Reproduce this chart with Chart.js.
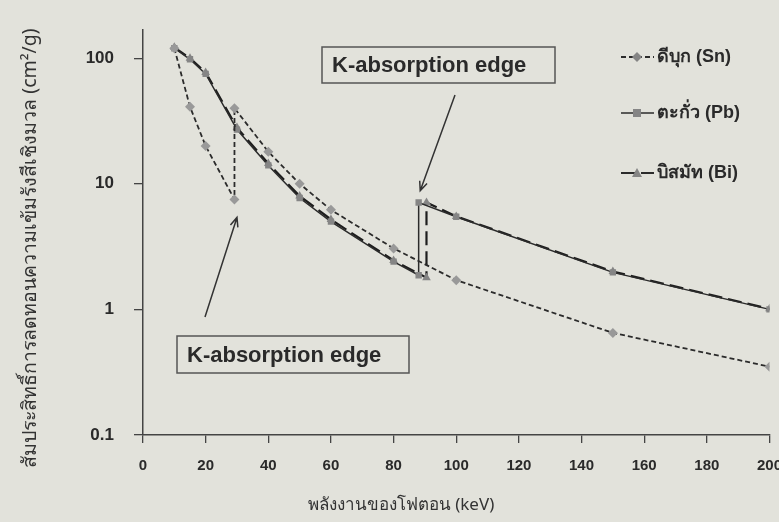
<!DOCTYPE html>
<html>
<head>
<meta charset="utf-8">
<script src="https://cdn.jsdelivr.net/npm/chart.js@4.4.1/dist/chart.umd.min.js"></script>
<style>
  html, body { margin: 0; padding: 0; overflow: hidden; background: #e2e2db; }
  #wrap { position: relative; width: 796px; height: 522px; }
</style>
</head>
<body>
<div id="wrap"><canvas id="attChart" width="796" height="522"></canvas></div>
<script>
// พลังงาน (keV) และค่าสัมประสิทธิ์การลดทอน (cm2/g) อ่านจากกราฟ
const snEnergy = [10, 15, 20, 29.2, 29.2, 40, 50, 60, 80, 100, 150, 200];
const snValues = [120, 41, 20, 7.5, 40, 18, 10, 6.2, 3.06, 1.71, 0.65, 0.35];

const pbEnergy = [10, 15, 20, 30, 40, 50, 60, 80, 88, 88, 100, 150, 200];
const pbValues = [120, 98, 75, 27, 14, 7.7, 5.0, 2.4, 1.87, 7.1, 5.47, 1.97, 1.0];

const biEnergy = [10, 15, 20, 30, 40, 50, 60, 80, 90.5, 90.5, 100, 150, 200];
const biValues = [122, 100, 77, 28, 14.5, 8.0, 5.2, 2.45, 1.79, 7.1, 5.5, 2.0, 1.01];

const xTicks = [0, 20, 40, 60, 80, 100, 120, 140, 160, 180, 200];
const yTicks = [0.1, 1, 10, 100];

const legendItems = ['ดีบุก (Sn)', 'ตะกั่ว (Pb)', 'บิสมัท (Bi)'];
const xTitle = 'พลังงานของโฟตอน (keV)';
const yTitle = 'สัมประสิทธิ์การลดทอนความเข้มรังสีเชิงมวล (cm²/g)';
const edgeLabel = 'K-absorption edge';

function toPoints(xs, ys) {
    return xs.map((x, i) => ({ x: x, y: ys[i] }));
}

const LINE = '#2b2b2b';
const MARK = '#858585';
const BOLD = 'bold 18px "Liberation Sans", Arial, sans-serif';

// วาดคำอธิบาย กรอบข้อความ และลูกศร
const extras = {
    id: 'extras',
    afterDraw(chart) {
        const ctx = chart.ctx;
        const xs = chart.scales.x, ys = chart.scales.y;
        ctx.save();

        // ชื่อแกน
        ctx.fillStyle = '#333';
        ctx.font = '17px "Noto Sans", "DejaVu Sans", sans-serif';
        ctx.textAlign = 'center';
        ctx.textBaseline = 'middle';
        ctx.fillText(xTitle, 401, 505);
        ctx.save();
        ctx.translate(30, 248);
        ctx.rotate(-Math.PI / 2);
        ctx.font = '19.5px "Noto Sans", "DejaVu Sans", sans-serif';
        ctx.fillText(yTitle, 0, 0);
        ctx.restore();

        // legend
        const rows = [
            { y: 57, dash: [5, 3], width: 1.8, shape: 'diamond' },
            { y: 113, dash: [], width: 1.5, shape: 'square' },
            { y: 173, dash: [14, 6], width: 2.2, shape: 'triangle' }
        ];
        rows.forEach((r, i) => {
            ctx.strokeStyle = LINE;
            ctx.lineWidth = r.width;
            ctx.setLineDash(r.dash);
            ctx.beginPath();
            ctx.moveTo(621, r.y);
            ctx.lineTo(654, r.y);
            ctx.stroke();
            ctx.setLineDash([]);
            drawMarker(ctx, r.shape, 637, r.y);
            ctx.fillStyle = '#2a2a2a';
            ctx.font = BOLD;
            ctx.textAlign = 'left';
            ctx.fillText(legendItems[i], 657, r.y);
        });

        // กรอบ K-absorption edge
        const boxes = [[322, 47, 233, 36], [177, 336, 232, 37]];
        boxes.forEach(b => {
            ctx.strokeStyle = '#555';
            ctx.lineWidth = 1.5;
            ctx.strokeRect(b[0], b[1], b[2], b[3]);
            ctx.fillStyle = '#2a2a2a';
            ctx.font = 'bold 22px "Liberation Sans", Arial, sans-serif';
            ctx.textAlign = 'left';
            ctx.fillText(edgeLabel, b[0] + 10, b[1] + b[3] / 2 + 1);
        });

        // ลูกศร
        arrow(ctx, 455, 95, xs.getPixelForValue(88.5), ys.getPixelForValue(8.8));
        arrow(ctx, 205, 317, xs.getPixelForValue(30), ys.getPixelForValue(5.4));
        ctx.restore();
    }
};

function arrow(ctx, x1, y1, x2, y2) {
    const a = Math.atan2(y2 - y1, x2 - x1);
    ctx.strokeStyle = '#333';
    ctx.lineWidth = 1.5;
    ctx.beginPath();
    ctx.moveTo(x1, y1);
    ctx.lineTo(x2, y2);
    ctx.moveTo(x2 - 10 * Math.cos(a - 0.4), y2 - 10 * Math.sin(a - 0.4));
    ctx.lineTo(x2, y2);
    ctx.lineTo(x2 - 10 * Math.cos(a + 0.4), y2 - 10 * Math.sin(a + 0.4));
    ctx.stroke();
}

function drawMarker(ctx, shape, x, y) {
    ctx.fillStyle = MARK;
    ctx.beginPath();
    if (shape === 'diamond') {
        ctx.moveTo(x, y - 5); ctx.lineTo(x + 5, y); ctx.lineTo(x, y + 5); ctx.lineTo(x - 5, y);
    } else if (shape === 'square') {
        ctx.rect(x - 4, y - 4, 8, 8);
    } else {
        ctx.moveTo(x, y - 5); ctx.lineTo(x + 5, y + 4); ctx.lineTo(x - 5, y + 4);
    }
    ctx.closePath();
    ctx.fill();
}

const tickFont = { family: '"Liberation Sans", Arial, sans-serif', weight: 'bold', size: 15 };

new Chart(document.getElementById('attChart'), {
    type: 'line',
    data: {
        datasets: [
            {
                label: legendItems[0],
                data: toPoints(snEnergy, snValues),
                borderColor: LINE,
                borderWidth: 1.8,
                borderDash: [5, 3],
                pointStyle: 'rectRot',
                pointRadius: 5,
                pointBackgroundColor: '#999',
                pointBorderWidth: 0,
                tension: 0
            },
            {
                label: legendItems[1],
                data: toPoints(pbEnergy, pbValues),
                borderColor: LINE,
                borderWidth: 1.5,
                pointStyle: 'rect',
                pointRadius: 4.5,
                pointBackgroundColor: MARK,
                pointBorderWidth: 0,
                tension: 0
            },
            {
                label: legendItems[2],
                data: toPoints(biEnergy, biValues),
                borderColor: '#1e1e1e',
                borderWidth: 2.2,
                borderDash: [14, 6],
                pointStyle: 'triangle',
                pointRadius: 5,
                pointBackgroundColor: MARK,
                pointBorderWidth: 0,
                tension: 0
            }
        ]
    },
    options: {
        responsive: false,
        animation: false,
        devicePixelRatio: 1,
        layout: { padding: { left: 10, top: 30, right: 0, bottom: 0 } },
        plugins: {
            legend: { display: false },
            tooltip: { enabled: false }
        },
        scales: {
            x: {
                type: 'linear',
                min: 0,
                max: 200,
                afterBuildTicks: s => { s.ticks = xTicks.map(v => ({ value: v })); },
                afterFit: s => { s.height = 87; },
                ticks: { color: '#2a2a2a', font: tickFont, padding: 14, maxRotation: 0 },
                grid: { drawOnChartArea: false, tickLength: 8, color: '#444', lineWidth: 1.3 },
                border: { color: '#444', width: 1.5 }
            },
            y: {
                type: 'logarithmic',
                min: 0.1,
                max: 167,
                afterBuildTicks: s => { s.ticks = yTicks.map(v => ({ value: v })); },
                afterFit: s => { s.width = 133; },
                ticks: { color: '#2a2a2a', font: { ...tickFont, size: 17 }, padding: 20, callback: v => String(v) },
                grid: { drawOnChartArea: false, tickLength: 9, color: '#444', lineWidth: 1.3 },
                border: { color: '#444', width: 1.5 }
            }
        }
    },
    plugins: [extras]
});
</script>
</body>
</html>
